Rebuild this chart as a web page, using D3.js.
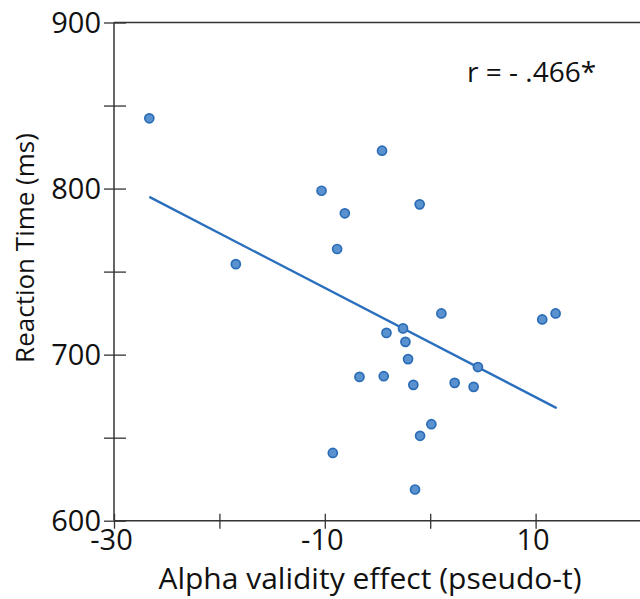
<!DOCTYPE html>
<html>
<head>
<meta charset="utf-8">
<script src="https://d3js.org/d3.v7.min.js"></script>
<style>
	body {margin:0; background:white;}
	text {font-family:"Open Sans", sans-serif; fill:#111;}
</style>
</head>
<body>
<div id="chart"></div>
<script>
// alpha validity effect (pseudo-t) and reaction time (ms)
var alphaEffect = [-26.65, -10.31, -8.10, -8.83, -18.44, -4.57, -1.00, 1.06, 11.90, 10.63,
	-2.58, -4.15, -2.35, -2.10, 4.53, -6.71, -4.41, -1.60, 2.32, 4.12, 0.11, -0.96, -9.24, -1.44];
var reactionTime = [842.3, 798.7, 785.1, 763.6, 754.5, 822.8, 790.5, 724.8, 724.8, 721.2,
	715.8, 713.1, 707.7, 697.3, 692.5, 686.6, 687.0, 681.8, 683.0, 680.6, 658.1, 651.1, 640.8, 618.8];
// fitted line end points
var fitX = [-26.65, 12.0];
var fitY = [795.0, 667.8];
var xTicks = [-30, -20, -10, 0, 10, 20];
var xTickLabels = [-30, -10, 10];
var yTicks = [600, 650, 700, 750, 800, 850, 900];
var yTickLabels = [600, 700, 800, 900];
var rLabel = "r = - .466*";

var width = 640, height = 599;
var mLeft = 114, mTop = 22.5, mRight = 641, mBottom = 520.7;

var svg = d3.select("#chart").append("svg")
	.attr("width", width)
	.attr("height", height);

var x = d3.scaleLinear().domain([-30, 20]).range([mLeft, mRight]);
var y = d3.scaleLinear().domain([600, 900]).range([mBottom, mTop]);

// top frame line
svg.append("line")
	.attr("x1", mLeft).attr("x2", width)
	.attr("y1", mTop).attr("y2", mTop)
	.attr("stroke", "#333").attr("stroke-width", 1.5);

var yAxis = svg.append("g")
	.attr("transform", "translate(" + mLeft + ",0)")
	.call(d3.axisLeft(y).tickValues(yTicks).tickSize(10).tickPadding(4)
		.tickFormat(function(d) { return yTickLabels.indexOf(d) >= 0 ? d : ""; }));
yAxis.selectAll(".tick line").attr("x1", -10).attr("x2", 12);
yAxis.selectAll(".tick text").style("font-size", "29px").attr("x", -13).attr("dy", "0.33em");

var xAxis = svg.append("g")
	.attr("transform", "translate(0," + mBottom + ")")
	.call(d3.axisBottom(x).tickValues(xTicks).tickSize(8).tickPadding(6)
		.tickFormat(function(d) { return xTickLabels.indexOf(d) >= 0 ? d : ""; }));
xAxis.selectAll(".tick line").attr("y1", -7).attr("y2", 8);
xAxis.selectAll(".tick text").style("font-size", "29px").attr("x", -3).attr("y", 9);

svg.selectAll(".domain").attr("stroke", "#333").attr("stroke-width", 1.5);
svg.selectAll(".tick line").attr("stroke", "#333").attr("stroke-width", 1.3);
svg.selectAll(".tick text").attr("fill", "#111").attr("font-family", "Open Sans, sans-serif");
xAxis.select(".domain").attr("d", "M" + mLeft + ",0H" + width);
yAxis.select(".domain").attr("d", "M0," + mTop + "V" + mBottom);

// fitted line
svg.append("line")
	.attr("x1", x(fitX[0])).attr("y1", y(fitY[0]))
	.attr("x2", x(fitX[1])).attr("y2", y(fitY[1]))
	.attr("stroke", "#2a6fbd").attr("stroke-width", 2.3);

var pts = alphaEffect.map(function(d, i) { return {x: d, y: reactionTime[i]}; });
svg.selectAll("circle").data(pts).enter()
	.append("circle")
	.attr("cx", function(d) { return x(d.x); })
	.attr("cy", function(d) { return y(d.y); })
	.attr("r", 4.5)
	.attr("fill", "#5a92cf")
	.attr("stroke", "#2b6cb6")
	.attr("stroke-width", 1.7);

svg.append("text")
	.attr("x", 467).attr("y", 82)
	.style("font-size", "28px")
	.text(rLabel);

svg.append("text")
	.attr("x", 370).attr("y", 589)
	.attr("text-anchor", "middle")
	.style("font-size", "30px")
	.text("Alpha validity effect (pseudo-t)");

svg.append("text")
	.attr("transform", "translate(34,248) rotate(-90)")
	.attr("text-anchor", "middle")
	.style("font-size", "26px")
	.text("Reaction Time (ms)");
</script>
</body>
</html>
